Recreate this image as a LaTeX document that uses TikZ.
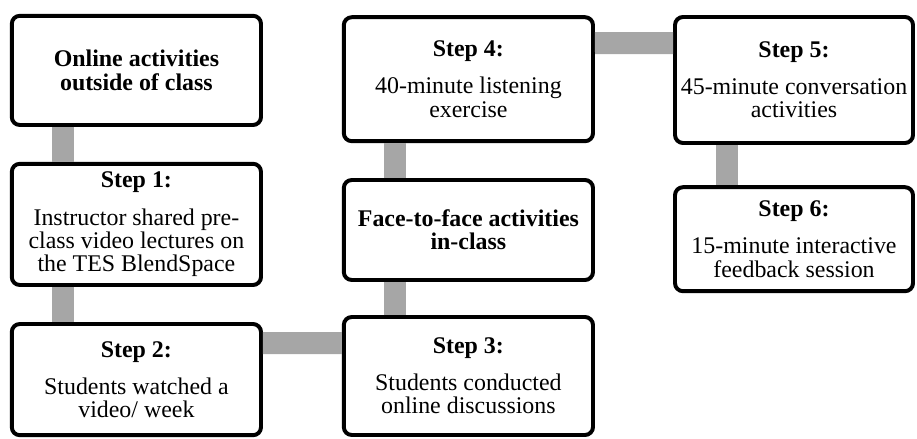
\documentclass[tikz,border=0pt]{standalone}
\usepackage{fontspec}
\setmainfont{Liberation Serif}
\definecolor{linkgray}{RGB}{166,166,166}
\begin{document}
\begin{tikzpicture}[
    box/.style={draw=black, line width=2.8pt, rounded corners=0.2cm, fill=white, align=center,
        minimum width=6.23cm, font=\fontsize{17}{16.5}\selectfont, inner sep=2pt},
    link/.style={draw=linkgray, line width=0.55cm}
]
    \useasboundingbox (0,0) rectangle (22.925,-10.975);
    % left column: online part
    \node[box, minimum height=2.73cm] (online) at (3.41,-1.76) {\textbf{Online activities}\\\textbf{outside of class}};
    \node[box, minimum height=3.03cm] (s1) at (3.41,-5.61) {\textbf{Step 1:}\\[0.35cm]Instructor shared pre-\\class video lectures on\\the TES BlendSpace};
    \node[box, minimum height=2.78cm] (s2) at (3.41,-9.49) {\textbf{Step 2:}\\[0.35cm]Students watched a\\video/ week};
    % middle column
    \node[box, minimum height=2.95cm] (s3) at (11.71,-9.40) {\textbf{Step 3:}\\[0.35cm]Students conducted\\online discussions};
    \node[box, minimum height=2.5cm] (f2f) at (11.71,-5.75) {\textbf{Face-to-face activities}\\\textbf{in-class}};
    \node[box, minimum height=3.1cm] (s4) at (11.71,-1.98) {\textbf{Step 4:}\\[0.35cm]40-minute listening\\exercise};
    % right column
    \node[box, minimum width=5.95cm, minimum height=3.15cm] (s5) at (19.85,-2.0) {\textbf{Step 5:}\\[0.35cm]45-minute conversation\\activities};
    \node[box, minimum width=5.95cm, minimum height=2.6cm] (s6) at (19.85,-5.98) {\textbf{Step 6:}\\[0.35cm]15-minute interactive\\feedback session};
    % grey bars between the boxes
    \draw[link] ([xshift=1.33cm]online.south west) -- ([xshift=1.33cm]s1.north west);
    \draw[link] ([xshift=1.33cm]s1.south west) -- ([xshift=1.33cm]s2.north west);
    \draw[link] ([yshift=-0.525cm]s2.north east) -- ([yshift=-0.7cm]s3.north west);
    \draw[link] ([xshift=1.33cm]s3.north west) -- ([xshift=1.33cm]f2f.south west);
    \draw[link] ([xshift=1.33cm]f2f.north west) -- ([xshift=1.33cm]s4.south west);
    \draw[link] ([yshift=-0.7cm]s4.north east) -- ([yshift=-0.7cm]s5.north west);
    \draw[link] ([xshift=1.36cm]s5.south west) -- ([xshift=1.36cm]s6.north west);
\end{tikzpicture}
\end{document}
